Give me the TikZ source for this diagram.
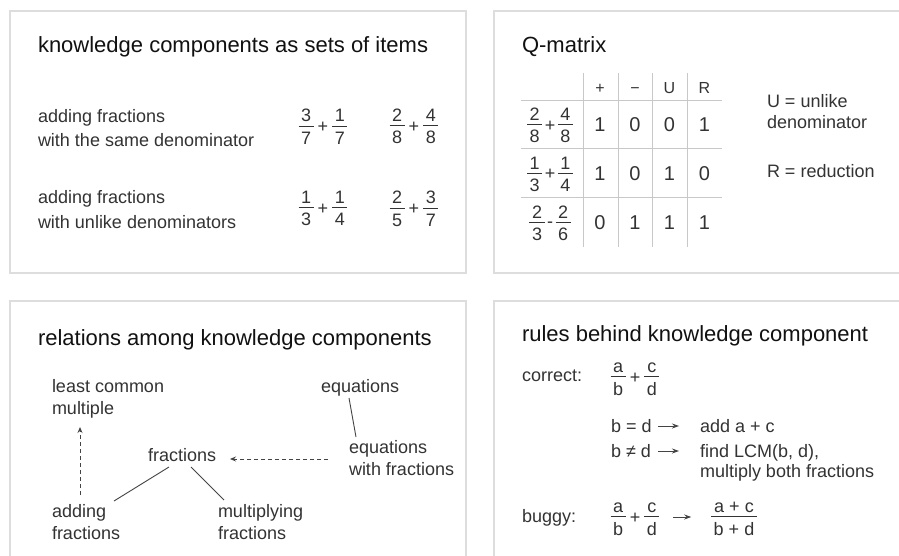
\documentclass[tikz,border=0pt]{standalone}
\usepackage{fontspec}
\setmainfont{Liberation Sans}
\usetikzlibrary{arrows.meta}
\definecolor{cTitle}{HTML}{111111}
\definecolor{cText}{HTML}{333333}
\definecolor{cPanel}{HTML}{DDDDDD}
\definecolor{cGrid}{HTML}{C8C8C8}
\definecolor{cLine}{HTML}{444444}
\newcommand\fr[2]{\begingroup\setbox0=\hbox{#1}\setbox2=\hbox{#2}%
\dimen0=\wd0 \ifdim\wd2>\dimen0 \dimen0=\wd2\fi\advance\dimen0 by 5pt%
\lower0.65em\vbox{\offinterlineskip
\hbox to\dimen0{\hss\vrule width0pt height0.775em\box0\hss}%
\kern0.2em\hrule height0.9pt\kern0.26em
\hbox to\dimen0{\hss\vrule width0pt height0.72em depth0pt\box2\hss}}\endgroup}
\begin{document}
\begin{tikzpicture}[x=1pt,y=-1pt,
  every node/.style={inner sep=0pt, outer sep=0pt},
  ttl/.style={anchor=base west, font=\fontsize{22}{26}\selectfont, text=cTitle},
  lbl/.style={anchor=base west, font=\fontsize{18}{22}\selectfont, text=cText},
  frc/.style={anchor=center, font=\fontsize{18}{22}\selectfont, text=cText},
  hdr/.style={anchor=base, font=\fontsize{16}{19}\selectfont, text=cText},
  dig/.style={anchor=center, font=\fontsize{20}{24}\selectfont, text=cText},
  panel/.style={draw=cPanel, line width=1.2pt, fill=white},
  gridline/.style={draw=cGrid, line width=1pt},
  conn/.style={draw=cLine, line width=0.9pt},
  dconn/.style={conn, dash pattern=on 4pt off 3pt, -{Stealth[length=6pt,width=5pt,inset=2pt]}},
  rarrow/.style={conn, -{Stealth[length=7pt,width=5pt,inset=2.5pt]}},
]
\useasboundingbox (0,0) rectangle (899,556);
\clip (0,0) rectangle (899,556);
\fill[white] (0,0) rectangle (899,556);
\draw[panel] (10,11) rectangle (466,273);
\draw[panel] (494,11) rectangle (910,273);
\draw[panel] (10,301) rectangle (466,570);
\draw[panel] (494,301) rectangle (910,570);

% ---------- panel 1
\node[ttl] (t1) at (38,53) {knowledge components as sets of items};
\node[lbl] (s1a) at (38,123) {adding fractions};
\node[lbl] (s1b) at (38,147) {with the same denominator};
\node[lbl] (s2a) at (38,204) {adding fractions};
\node[lbl] (s2b) at (38,228) {with unlike denominators};
\node[frc] (e11) at (323,126) {\fr{3}{7}\kern4pt+\kern4pt\fr{1}{7}};
\node[frc] (e12) at (414,126) {\fr{2}{8}\kern4pt+\kern4pt\fr{4}{8}};
\node[frc] (e21) at (323,208) {\fr{1}{3}\kern4pt+\kern4pt\fr{1}{4}};
\node[frc] (e22) at (414,208) {\fr{2}{5}\kern4pt+\kern4pt\fr{3}{7}};

% ---------- panel 2
\node[ttl] (t2) at (522,53) {Q-matrix};
\foreach \x in {583,618,652,687} \draw[gridline] (\x,73) -- (\x,247);
\foreach \y in {101,149,198} \draw[gridline] (521,\y) -- (722,\y);
\node[hdr] (hp) at (600,94) {+};
\node[hdr] (hm) at (635,94) {−};
\node[hdr] (hu) at (669.5,94) {U};
\node[hdr] (hr) at (704.5,94) {R};
\node[frc] (q1) at (550,125) {\fr{2}{8}\kern2.5pt+\kern2.5pt\fr{4}{8}};
\node[frc] (q2) at (550,173.5) {\fr{1}{3}\kern2.5pt+\kern2.5pt\fr{1}{4}};
\node[frc] (q3) at (550,222.5) {\fr{2}{3}\kern2.5pt\raisebox{1.5pt}{-}\kern2.5pt\fr{2}{6}};
\node[dig] (d11) at (600,125) {1};
\node[dig] (d12) at (635,125) {0};
\node[dig] (d13) at (669.5,125) {0};
\node[dig] (d14) at (704.5,125) {1};
\node[dig] (d21) at (600,173.5) {1};
\node[dig] (d22) at (635,173.5) {0};
\node[dig] (d23) at (669.5,173.5) {1};
\node[dig] (d24) at (704.5,173.5) {0};
\node[dig] (d31) at (600,222.5) {0};
\node[dig] (d32) at (635,222.5) {1};
\node[dig] (d33) at (669.5,222.5) {1};
\node[dig] (d34) at (704.5,222.5) {1};
\node[lbl] (lu1) at (767,108) {U = unlike};
\node[lbl] (lu2) at (767,129) {denominator};
\node[lbl] (lr) at (767,178) {R = reduction};

% ---------- panel 3
\node[ttl] (t3) at (38,345) {relations among knowledge components};
\node[lbl] (lcm1) at (52,392) {least common};
\node[lbl] (lcm2) at (52,414) {multiple};
\node[lbl] (fra) at (148,461) {fractions};
\node[lbl] (add1) at (52,517) {adding};
\node[lbl] (add2) at (52,539) {fractions};
\node[lbl] (mul1) at (218,517) {multiplying};
\node[lbl] (mul2) at (218,539) {fractions};
\node[lbl] (eq) at (321,392) {equations};
\node[lbl] (eqf1) at (349,453) {equations};
\node[lbl] (eqf2) at (349,475) {with fractions};
\draw[conn] ([shift={(21,6)}]fra.base west) -- ([shift={(62,-16)}]add1.base west);
\draw[conn] ([shift={(43,6)}]fra.base west) -- ([shift={(6,-17)}]mul1.base west);
\draw[dconn] ([shift={(28,-22)}]add1.base west) -- ([shift={(28,13)}]lcm2.base west);
\draw[dconn] ([shift={(-21,6)}]eqf1.base west) -- ([shift={(82,-2)}]fra.base west);
\draw[conn] ([shift={(28,6)}]eq.base west) -- ([shift={(7,-16)}]eqf1.base west);

% ---------- panel 4
\node[ttl] (t4) at (522,341) {rules behind knowledge component};
\node[lbl] (cor) at (522,381) {correct:};
\node[frc] (cf) at (635,377) {\fr{a}{b}\kern4pt+\kern4pt\fr{c}{d}};
\node[lbl] (r1a) at (611,432) {b = d};
\node[lbl] (r1b) at (700,432) {add a + c};
\node[lbl] (r2a) at (611,457) {b ≠ d};
\node[lbl] (r2b) at (700,457) {find LCM(b, d),};
\node[lbl] (r2c) at (700,477) {multiply both fractions};
\draw[rarrow] ([shift={(47,-6)}]r1a.base west) -- ([shift={(-21,-6)}]r1b.base west);
\draw[rarrow] ([shift={(47,-6)}]r2a.base west) -- ([shift={(-21,-6)}]r2b.base west);
\node[lbl] (bug) at (522,522) {buggy:};
\node[frc] (bf) at (635,517) {\fr{a}{b}\kern4pt+\kern4pt\fr{c}{d}};
\node[frc] (bres) at (734,517) {\fr{a + c}{b + d}};
\draw[rarrow] ([xshift=14pt]bf.east) -- ([xshift=-20pt]bres.west);
\end{tikzpicture}
\end{document}
